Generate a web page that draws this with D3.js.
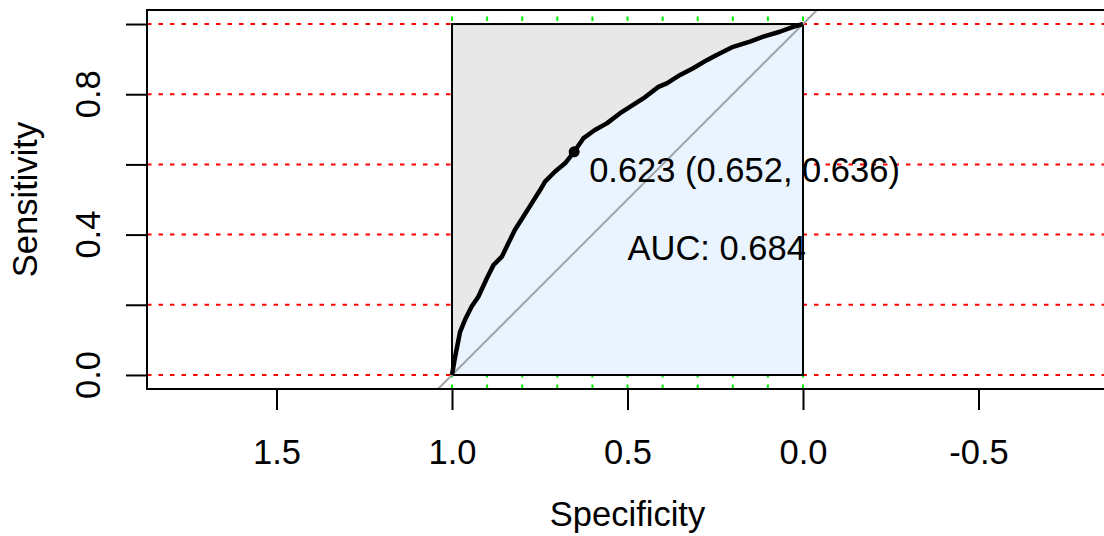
<!DOCTYPE html>
<html>
<head>
<meta charset="utf-8">
<script src="https://cdn.jsdelivr.net/npm/d3@7"></script>
<style>
  body { margin: 0; background: #fff; }
  text { font-family: "Liberation Sans", Arial, Helvetica, sans-serif; }
</style>
</head>
<body>
<div id="roc"></div>
<script>
// ROC curve points (specificity, sensitivity)
const specificity = [1.000, 0.991, 0.977, 0.963, 0.944, 0.925, 0.901, 0.882, 0.858, 0.844,
                     0.821, 0.797, 0.773, 0.749, 0.735, 0.707, 0.678, 0.652, 0.626, 0.593,
                     0.559, 0.521, 0.493, 0.455, 0.412, 0.388, 0.350, 0.313, 0.274, 0.246,
                     0.199, 0.151, 0.113, 0.066, 0.028, 0.000];
const sensitivity = [0.000, 0.052, 0.123, 0.157, 0.195, 0.223, 0.275, 0.313, 0.337, 0.366,
                     0.413, 0.451, 0.489, 0.527, 0.551, 0.579, 0.603, 0.636, 0.674, 0.698,
                     0.717, 0.746, 0.764, 0.788, 0.821, 0.831, 0.855, 0.874, 0.897, 0.912,
                     0.935, 0.950, 0.964, 0.978, 0.992, 1.000];

const xTicks = [1.5, 1.0, 0.5, 0.0, -0.5];
const xTickLabels = ["1.5", "1.0", "0.5", "0.0", "-0.5"];
const yTicks = [0, 0.2, 0.4, 0.6, 0.8, 1.0];
const yTickLabels = ["0.0", "", "0.4", "", "0.8", ""];
const hGrid = [0, 0.2, 0.4, 0.6, 0.8, 1.0];
const vGrid = [0, 0.1, 0.2, 0.3, 0.4, 0.5, 0.6, 0.7, 0.8, 0.9, 1.0];

const bestThres = 0.623, bestSpec = 0.652, bestSens = 0.636;
const aucValue = 0.684;

const width = 1104, height = 536;
const pLeft = 147, pRight = 1108, pTop = 10, pBottom = 389;
const fs = "34.5px";

const svg = d3.select("#roc").append("svg")
    .attr("width", width).attr("height", height);

// x axis is reversed: specificity 1 on the left
const x = d3.scaleLinear().domain([1.869, -0.869]).range([pLeft, pRight]);
const y = d3.scaleLinear().domain([-0.04, 1.04]).range([pBottom, pTop]);

svg.append("clipPath").attr("id", "plotclip")
    .append("rect").attr("x", pLeft).attr("y", pTop)
    .attr("width", pRight - pLeft).attr("height", pBottom - pTop);

const plot = svg.append("g").attr("clip-path", "url(#plotclip)");

// grid
plot.selectAll(".hgrid").data(hGrid).enter().append("line")
    .attr("x1", pLeft).attr("x2", pRight)
    .attr("y1", d => y(d)).attr("y2", d => y(d))
    .style("stroke", "#ff0000").style("stroke-width", 2)
    .style("stroke-dasharray", "4.5,7");

plot.selectAll(".vgrid").data(vGrid).enter().append("line")
    .attr("x1", d => x(d)).attr("x2", d => x(d))
    .attr("y1", pBottom).attr("y2", pTop)
    .style("stroke", "#00ee00").style("stroke-width", 2)
    .style("stroke-dasharray", "4.5,7");

// max AUC polygon
plot.append("rect")
    .attr("x", x(1)).attr("y", y(1))
    .attr("width", x(0) - x(1)).attr("height", y(0) - y(1))
    .style("fill", "#e8e8e8").style("stroke", "#000").style("stroke-width", 2);

// AUC polygon
const pts = specificity.map((s, i) => [s, sensitivity[i]]);
const area = pts.concat([[0, 0]]);
plot.append("path")
    .attr("d", d3.line().x(d => x(d[0])).y(d => y(d[1]))(area) + "Z")
    .style("fill", "#eaf4fe").style("stroke", "#000").style("stroke-width", 2);

// identity line
plot.append("line")
    .attr("x1", x(1.04)).attr("y1", y(-0.04))
    .attr("x2", x(-0.04)).attr("y2", y(1.04))
    .style("stroke", "#a0a4a8").style("stroke-width", 2);

// ROC curve
plot.append("path")
    .attr("d", d3.line().x(d => x(d[0])).y(d => y(d[1]))(pts))
    .style("fill", "none").style("stroke", "#000").style("stroke-width", 4.5)
    .style("stroke-linejoin", "round");

plot.append("circle")
    .attr("cx", x(bestSpec)).attr("cy", y(bestSens)).attr("r", 5.5)
    .style("fill", "#000");

// annotations
svg.append("text")
    .attr("x", x(bestSpec) + 15).attr("y", y(bestSens) + 30)
    .style("font-size", fs)
    .text(bestThres.toFixed(3) + " (" + bestSpec.toFixed(3) + ", " + bestSens.toFixed(3) + ")");

svg.append("text")
    .attr("x", x(0.5)).attr("y", y(0.4) + 25)
    .style("font-size", fs)
    .text("AUC: " + aucValue.toFixed(3));

// box
svg.append("rect")
    .attr("x", pLeft).attr("y", pTop)
    .attr("width", pRight - pLeft).attr("height", pBottom - pTop)
    .style("fill", "none").style("stroke", "#000").style("stroke-width", 2);

// axes
const xAxis = svg.append("g").attr("transform", "translate(0," + pBottom + ")")
    .call(d3.axisBottom(x).tickValues(xTicks).tickSize(21)
        .tickFormat((d, i) => xTickLabels[i]));
xAxis.select(".domain").remove();
xAxis.selectAll("line").style("stroke", "#000").style("stroke-width", 2);
xAxis.selectAll("text").attr("y", 75).attr("dy", null)
    .style("font-size", fs).style("fill", "#000")
    .style("font-family", "'Liberation Sans', Arial, Helvetica, sans-serif");

const yAxis = svg.append("g").attr("transform", "translate(" + pLeft + ",0)")
    .call(d3.axisLeft(y).tickValues(yTicks).tickSize(21).tickFormat(() => ""));
yAxis.select(".domain").remove();
yAxis.selectAll("line").style("stroke", "#000").style("stroke-width", 2);

svg.selectAll(".ylab").data(yTicks).enter().append("text")
    .attr("transform", d => "translate(100," + y(d) + ") rotate(-90)")
    .attr("text-anchor", "middle")
    .style("font-size", fs)
    .text((d, i) => yTickLabels[i]);

// axis titles
svg.append("text")
    .attr("x", (pLeft + pRight) / 2).attr("y", 526)
    .attr("text-anchor", "middle").style("font-size", fs)
    .text("Specificity");

svg.append("text")
    .attr("transform", "translate(37," + (pTop + pBottom) / 2 + ") rotate(-90)")
    .attr("text-anchor", "middle").style("font-size", fs)
    .text("Sensitivity");
</script>
</body>
</html>
